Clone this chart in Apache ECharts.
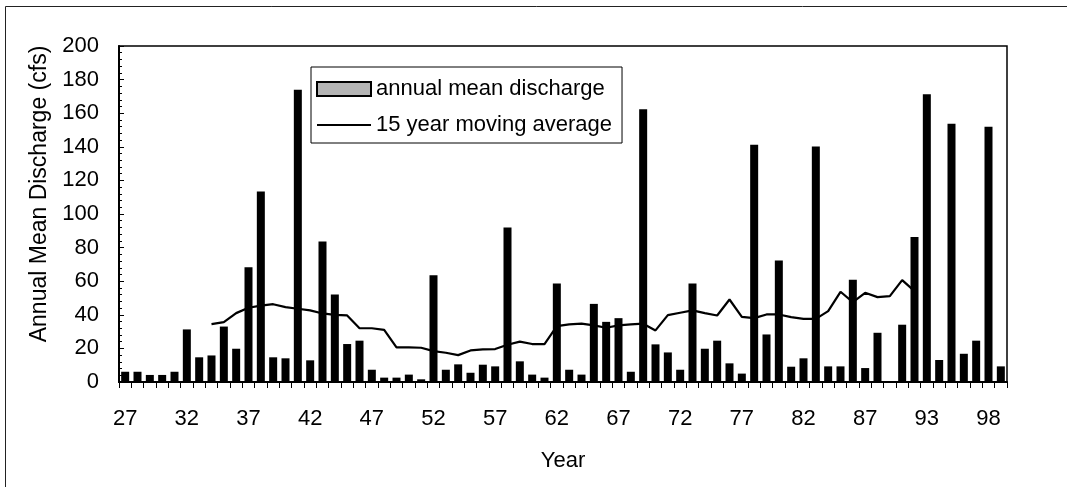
<!DOCTYPE html>
<html>
<head>
<meta charset="utf-8">
<script src="https://cdn.jsdelivr.net/npm/echarts@6/dist/echarts.min.js"></script>
<style>
html,body{margin:0;padding:0;background:#fff;}
#chart{width:1067px;height:487px;}
</style>
</head>
<body>
<div id="chart"></div>
<script>
// Year labels (two-digit), one year between 88 and 93 is absent in the record
const categories = ['27','28','29','30','31','32','33','34','35','36','37','38','39','40','41','42','43','44','45','46',
  '47','48','49','50','51','52','53','54','55','56','57','58','59','60','61','62','63','64','65','66',
  '67','68','69','70','71','72','73','74','75','76','77','78','79','80','81','82','83','84','85','86',
  '87','88','89','91','92','93','94','95','96','97','98','99'];

// Annual mean discharge (cfs)
const discharge = [6.1,6.1,4.2,4.2,6.1,31.3,14.7,15.8,33,19.8,
  68.3,113.4,14.7,14.1,174,12.9,83.6,52.1,22.6,24.6,
  7.3,2.6,2.6,4.4,1.6,63.6,7.3,10.5,5.5,10.3,
  9.3,92,12.3,4.4,2.6,58.6,7.3,4.4,46.5,35.8,
  38,6.1,162.4,22.4,17.6,7.3,58.6,19.8,24.6,11.1,
  5,141.2,28.3,72.3,9.1,14.1,140.2,9.3,9.3,60.8,
  8.3,29.3,0.6,34.1,86.3,171.3,13.1,153.7,16.8,24.6,
  152,9.3];

// 15 year moving average (cfs), centered
const movingAvg = [null,null,null,null,null,null,null,
  34.5,35.6,41,44.2,45.5,46.3,44.6,43.6,42.6,40.8,
  40,39.6,32,32,31,20.6,20.6,20.4,18.4,17.4,
  16,18.8,19.4,19.6,22.2,24,22.6,22.6,33.3,34.3,
  34.7,33.7,32.3,33.7,34.3,34.7,30.7,39.8,41.2,42.6,
  41,39.6,49.1,38.8,38,40.2,40.2,38.6,37.6,37.6,
  42.2,53.7,47.5,53.1,50.5,51.1,60.6,54.1,
  null,null,null,null,null,null,null];

const yTicks = {min: 0, max: 200, interval: 20};

const FONT = "'Liberation Sans', Arial, Helvetica, sans-serif";
const chart = echarts.init(document.getElementById('chart'), null, {renderer: 'canvas'});
chart.setOption({
  animation: false,
  backgroundColor: '#fff',
  textStyle: {fontFamily: FONT, color: '#000'},
  graphic: [{
    type: 'rect', silent: true, z: -1,
    shape: {x: 5.5, y: 6.5, width: 1200, height: 800},
    style: {fill: 'none', stroke: '#222', lineWidth: 1}
  }],
  grid: {
    left: 119, right: 60, top: 46, bottom: 105,
    show: true, borderColor: '#000', borderWidth: 1.5, backgroundColor: '#fff'
  },
  legend: {
    orient: 'vertical',
    left: 311, top: 67,
    padding: [11, 10, 7, 5],
    itemGap: 14,
    itemWidth: 54, itemHeight: 14,
    borderColor: '#000', borderWidth: 1,
    backgroundColor: '#fff',
    textStyle: {fontFamily: FONT, fontSize: 22, color: '#000'},
    data: [
      {name: 'annual mean discharge', icon: 'rect',
       itemStyle: {color: '#b4b4b4', borderColor: '#000', borderWidth: 2}},
      {name: '15 year moving average',
       itemStyle: {opacity: 0},
       lineStyle: {color: '#000', width: 2, opacity: 1}}
    ]
  },
  xAxis: {
    type: 'category',
    data: categories,
    name: 'Year',
    nameLocation: 'middle',
    nameGap: 68,
    nameTextStyle: {fontFamily: FONT, fontSize: 22, color: '#000'},
    axisLine: {show: true, lineStyle: {color: '#000', width: 2}},
    axisTick: {show: true, interval: 0, length: 6, lineStyle: {color: '#000', width: 1}},
    axisLabel: {interval: 4, margin: 26, fontFamily: FONT, fontSize: 22, color: '#000'},
    splitLine: {show: false}
  },
  yAxis: {
    type: 'value',
    min: yTicks.min, max: yTicks.max, interval: yTicks.interval,
    name: 'Annual Mean Discharge (cfs)',
    nameLocation: 'middle',
    nameGap: 67,
    nameTextStyle: {fontFamily: FONT, fontSize: 23, color: '#000', padding: [0, 0, 0, 40]},
    axisLine: {show: true, lineStyle: {color: '#000', width: 2}},
    axisTick: {show: true, inside: true, length: 5, lineStyle: {color: '#000'}},
    minorTick: {show: true, splitNumber: 5, length: 3, lineStyle: {color: '#000'}},
    axisLabel: {margin: 20, fontFamily: FONT, fontSize: 22, color: '#000'},
    splitLine: {show: false}
  },
  series: [
    {
      name: 'annual mean discharge',
      type: 'bar',
      data: discharge,
      barWidth: 8,
      itemStyle: {color: '#000'},
      z: 2
    },
    {
      name: '15 year moving average',
      type: 'line',
      data: movingAvg,
      symbol: 'none',
      connectNulls: false,
      lineStyle: {color: '#000', width: 2.2},
      itemStyle: {color: '#000'},
      z: 3
    }
  ]
});
</script>
</body>
</html>
